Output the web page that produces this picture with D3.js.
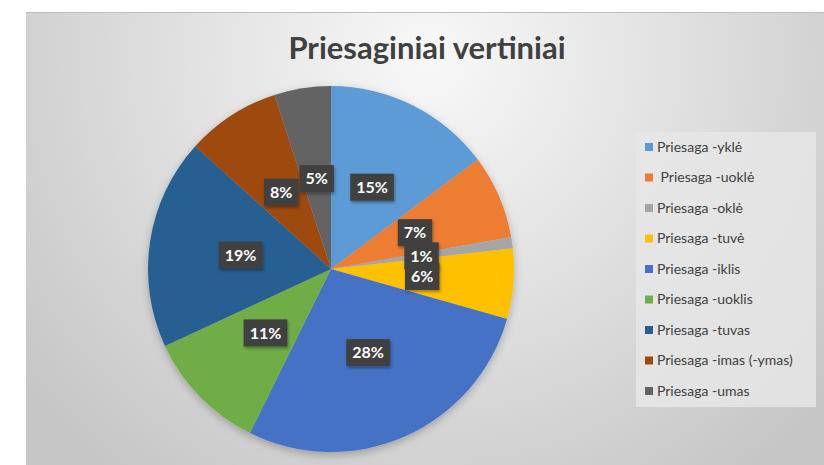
<!DOCTYPE html>
<html>
<head>
<meta charset="utf-8">
<script src="https://cdn.jsdelivr.net/npm/d3@7"></script>
<style>
  html, body { margin: 0; padding: 0; background: #fff; }
  svg { display: block; }
  text { font-family: Lato, "Open Sans", sans-serif; }
</style>
</head>
<body>
<div id="chart"></div>
<script>
const title = 'Priesaginiai vertiniai'
const categories = ['Priesaga -yklė', ' Priesaga -uoklė', 'Priesaga -oklė', 'Priesaga -tuvė',
  'Priesaga -iklis', 'Priesaga -uoklis', 'Priesaga -tuvas', 'Priesaga -imas (-ymas)', 'Priesaga -umas']
const shares = [14.8, 7.4, 1.0, 6.2, 27.9, 10.8, 18.6, 8.3, 5.0]
const colors = ['#5B9BD5', '#ED7D31', '#A5A5A5', '#FFC000', '#4472C4', '#70AD47', '#255E91', '#9E480E', '#636363']

const width = 824
const height = 465

const svg = d3.select('#chart').append('svg')
  .attr('width', width)
  .attr('height', height)

const defs = svg.append('defs')

// chart area background gradient
const bg = defs.append('radialGradient')
  .attr('id', 'bg')
  .attr('gradientUnits', 'userSpaceOnUse')
  .attr('cx', 430).attr('cy', 60).attr('r', 520)
bg.append('stop').attr('offset', '0%').attr('stop-color', '#f8f8f8')
bg.append('stop').attr('offset', '45%').attr('stop-color', '#e2e2e2')
bg.append('stop').attr('offset', '100%').attr('stop-color', '#c6c6c6')

const shadow = defs.append('filter').attr('id', 'shadow')
  .attr('x', '-20%').attr('y', '-20%').attr('width', '140%').attr('height', '140%')
shadow.append('feDropShadow')
  .attr('dx', 0).attr('dy', 3).attr('stdDeviation', 4)
  .attr('flood-color', '#000').attr('flood-opacity', 0.25)

const boxShadow = defs.append('filter').attr('id', 'boxShadow')
  .attr('x', '-30%').attr('y', '-30%').attr('width', '160%').attr('height', '160%')
boxShadow.append('feDropShadow')
  .attr('dx', 1).attr('dy', 2).attr('stdDeviation', 1.5)
  .attr('flood-color', '#000').attr('flood-opacity', 0.35)

svg.append('rect')
  .attr('x', 26).attr('y', 12)
  .attr('width', width - 26).attr('height', height - 12)
  .attr('fill', 'url(#bg)')
svg.append('line')
  .attr('x1', 26).attr('x2', width).attr('y1', 12.5).attr('y2', 12.5)
  .attr('stroke', '#bdbdbd')

svg.append('text')
  .attr('x', 427).attr('y', 59)
  .attr('text-anchor', 'middle')
  .attr('font-size', 31)
  .attr('font-weight', 700)
  .attr('fill', '#404040')
  .text(title)

// pie
const cx = 331
const cy = 269
const radius = 183

const pie = d3.pie().sort(null).value(d => d)
const arcs = pie(shares)
const arc = d3.arc().innerRadius(0).outerRadius(radius)
const labelArc = d3.arc().innerRadius(radius * 0.5).outerRadius(radius * 0.5)

const g = svg.append('g').attr('transform', `translate(${cx},${cy})`)

g.append('g')
  .attr('filter', 'url(#shadow)')
  .selectAll('path')
  .data(arcs)
  .join('path')
  .attr('d', arc)
  .attr('fill', (d, i) => colors[i])

const total = d3.sum(shares)
const labels = g.append('g')
  .selectAll('g')
  .data(arcs)
  .join('g')
  .attr('transform', d => `translate(${labelArc.centroid(d)})`)

labels.append('text')
  .attr('class', 'lbl')
  .attr('text-anchor', 'middle')
  .attr('dy', '0.36em')
  .attr('font-size', 16)
  .attr('font-weight', 700)
  .attr('fill', '#fff')
  .text(d => `${Math.round(d.value / total * 100)}%`)

labels.each(function () {
  const grp = d3.select(this)
  const bb = grp.select('text').node().getBBox()
  grp.insert('rect', 'text')
    .attr('x', bb.x - 6)
    .attr('y', -13.5)
    .attr('width', bb.width + 12)
    .attr('height', 27)
    .attr('fill', '#404040')
    .attr('filter', 'url(#boxShadow)')
})

// legend
const legend = svg.append('g')
legend.append('rect')
  .attr('x', 636).attr('y', 132)
  .attr('width', 180).attr('height', 275)
  .attr('fill', '#e6e6e6')
  .attr('opacity', 0.85)

const legendY = d3.scalePoint()
  .domain(categories)
  .range([147, 391])

const items = legend.selectAll('g.item')
  .data(categories)
  .join('g')
  .attr('class', 'item')
  .attr('transform', d => `translate(645,${legendY(d)})`)

items.append('rect')
  .attr('x', 0).attr('y', -4)
  .attr('width', 8).attr('height', 8)
  .attr('fill', (d, i) => colors[i])

items.append('text')
  .attr('x', 12)
  .attr('dy', '0.35em')
  .attr('font-size', 14)
  .attr('fill', '#404040')
  .style('white-space', 'pre')
  .text(d => d)
</script>
</body>
</html>
